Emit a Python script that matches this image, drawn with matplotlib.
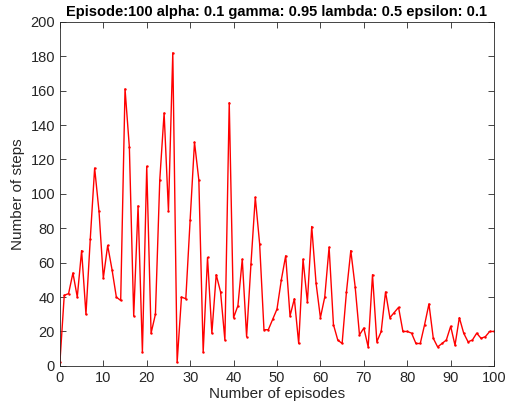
import matplotlib
matplotlib.use("Agg")
import matplotlib.pyplot as plt

episodes = list(range(0, 101))
steps = [2, 41, 42, 54, 40, 67, 30, 74, 115, 90,
         51, 70, 56, 40, 38, 161, 127, 29, 93, 8,
         116, 19, 30, 108, 147, 90, 182, 2, 40, 39,
         85, 130, 108, 8, 63, 19, 53, 43, 15, 153,
         28, 35, 62, 17, 59, 98, 71, 21, 21, 27,
         33, 50, 64, 29, 39, 13, 62, 37, 81, 48,
         28, 40, 69, 24, 15, 13, 43, 67, 46, 18,
         22, 11, 53, 14, 20, 43, 28, 31, 34, 20,
         20, 19, 13, 13, 24, 36, 16, 11, 13, 15,
         23, 12, 28, 19, 14, 15, 19, 16, 17, 20, 20]
xticks = list(range(0, 101, 10))
yticks = list(range(0, 201, 20))
title = "Episode:100 alpha: 0.1 gamma: 0.95 lambda: 0.5 epsilon: 0.1"

plt.rcParams['font.family'] = ['Liberation Sans', 'DejaVu Sans']
fig = plt.figure(figsize=(5.12, 4.12), dpi=100)
ax = fig.add_axes([0.117, 0.112, 0.848, 0.835])
ax.plot(episodes, steps, color='#ff0000', linewidth=1.0, marker='.', markersize=1.5)
ax.set_xlim(0, 100)
ax.set_ylim(0, 200)
ax.set_xticks(xticks)
ax.set_yticks(yticks)
ax.tick_params(direction='in', top=True, right=True, labelsize=10.5, length=4, width=0.6, colors='#262626')
for s in ax.spines.values():
    s.set_linewidth(0.6)
    s.set_color('#262626')
ax.set_xlabel("Number of episodes", fontsize=11, color='#262626', labelpad=2)
ax.set_ylabel("Number of steps", fontsize=11, color='#262626', labelpad=4)
ax.set_title(title, fontsize=10.5, fontweight='bold', pad=4)
fig.savefig("out.png", dpi=100)
